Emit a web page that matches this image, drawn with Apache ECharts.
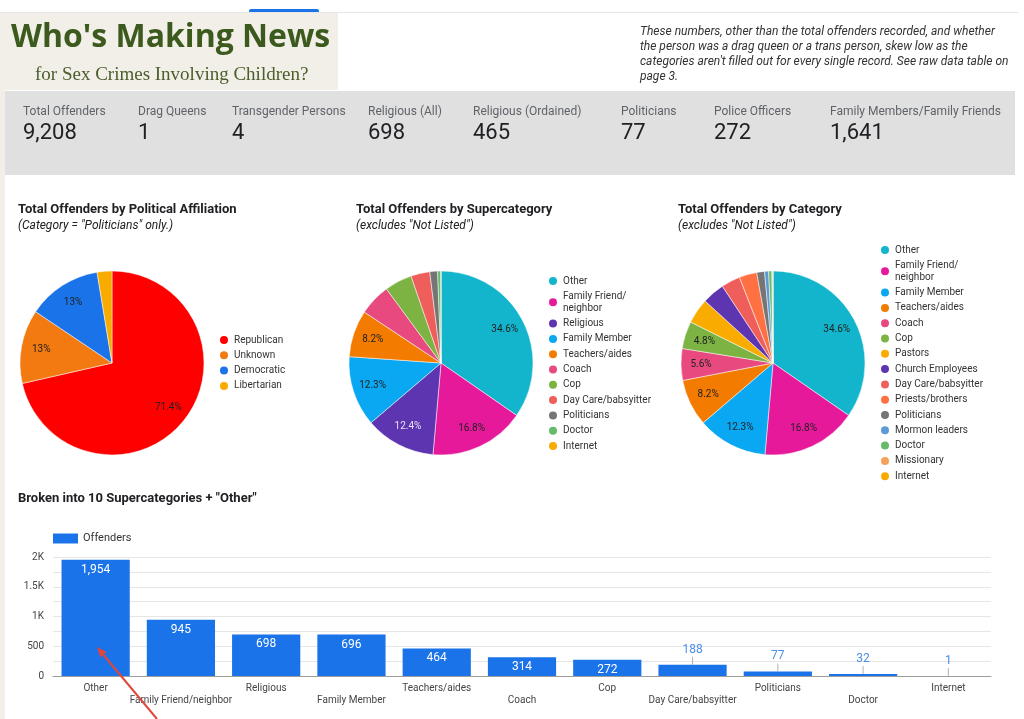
<!DOCTYPE html>
<html lang="en">
<head>
    <meta charset="UTF-8">
    <title>Who's Making News</title>
    <script src="https://cdn.jsdelivr.net/npm/echarts@6/dist/echarts.min.js"></script>
</head>
<style>
html,body{margin:0;padding:0;background-color:#fff}
#chartBox{width:1024px;height:719px}
</style>
<body>
    <div id="chartBox"></div>
</body>
<script>
// KPI strip
const kpiLabels = ['Total Offenders', 'Drag Queens', 'Transgender Persons', 'Religious (All)', 'Religious (Ordained)', 'Politicians', 'Police Officers', 'Family Members/Family Friends'];
const kpiValues = [9208, 1, 4, 698, 465, 77, 272, 1641];

// pie 1 - political affiliation
const partyNames = ['Republican', 'Unknown', 'Democratic', 'Libertarian'];
const partyValues = [55, 10, 10, 2];
const partyColors = ['#ff0000', '#f27a10', '#1a73e8', '#f9ab00'];

// pie 2 - supercategories
const superNames = ['Other', 'Family Friend/neighbor', 'Religious', 'Family Member', 'Teachers/aides', 'Coach', 'Cop', 'Day Care/babsyitter', 'Politicians', 'Doctor', 'Internet'];
const superValues = [1954, 945, 698, 696, 464, 314, 272, 188, 77, 32, 1];
const superColors = ['#12b5cb', '#e6199b', '#5e35b1', '#0aa8f2', '#f37c00', '#e84a7f', '#7cb342', '#ee5f5b', '#757575', '#66bb6a', '#f9ab00'];

// pie 3 - categories
const catNames = ['Other', 'Family Friend/neighbor', 'Family Member', 'Teachers/aides', 'Coach', 'Cop', 'Pastors', 'Church Employees', 'Day Care/babsyitter', 'Priests/brothers', 'Politicians', 'Mormon leaders', 'Doctor', 'Missionary', 'Internet'];
const catValues = [1954, 945, 696, 464, 314, 272, 250, 223, 188, 175, 77, 40, 32, 10, 1];
const catColors = ['#12b5cb', '#e6199b', '#0aa8f2', '#f37c00', '#e84a7f', '#7cb342', '#f9ab00', '#5e35b1', '#ee5f5b', '#ff7043', '#757575', '#5c9bd5', '#66bb6a', '#f6a05a', '#f9ab00'];

// bar chart
const barNames = ['Other', 'Family Friend/neighbor', 'Religious', 'Family Member', 'Teachers/aides', 'Coach', 'Cop', 'Day Care/babsyitter', 'Politicians', 'Doctor', 'Internet'];
const barValues = [1954, 945, 698, 696, 464, 314, 272, 188, 77, 32, 1];

const FONT = 'Roboto, "Noto Sans", sans-serif';
const kpiX = [23, 138, 232, 368, 473, 621, 714, 830];

function pct(p){
    let s = p.toFixed(1);
    if (s.endsWith('.0')) s = s.slice(0, -2);
    return s + '%';
}

function pieSeries(names, values, colors, cx, minPct, lightIdx){
    const data = names.map((n, i) => ({name: n, value: values[i], itemStyle: {color: colors[i]}}));
    const total = values.reduce((a, b) => a + b, 0);
    return [
        {
            type: 'pie',
            center: [cx, 363],
            radius: [0, 92],
            startAngle: 90,
            label: {show: false},
            labelLine: {show: false},
            itemStyle: {borderColor: '#fff', borderWidth: 0.5},
            emphasis: {disabled: true},
            data: data
        },
        {
            // label layer so the percent sits at 3/4 of the radius
            type: 'pie',
            center: [cx, 363],
            radius: [46, 92],
            startAngle: 90,
            silent: true,
            itemStyle: {color: 'transparent'},
            labelLine: {show: false},
            label: {
                show: true,
                position: 'inside',
                fontFamily: FONT,
                fontSize: 10,
                color: '#222',
                formatter: p => {
                    const v = p.value / total * 100;
                    return v >= minPct ? pct(v) : '';
                }
            },
            data: names.map((n, i) => ({
                name: n, value: values[i],
                label: lightIdx.includes(i) ? {color: '#e8e2f5'} : {}
            }))
        }
    ];
}

function pieLegend(names, colors, left, top){
    return {
        orient: 'vertical',
        left: left,
        top: top,
        icon: 'circle',
        itemWidth: 10,
        itemHeight: 10,
        itemGap: 3.3,
        padding: 0,
        selectedMode: false,
        textStyle: {fontFamily: FONT, fontSize: 10, color: '#333', lineHeight: 12},
        formatter: n => n.replace('Friend/neighbor', 'Friend/\nneighbor'),
        data: names.map((n, i) => ({name: n, itemStyle: {color: colors[i]}}))
    };
}

function generateChartOption(){
    const titleStyle = {fontFamily: FONT, fontSize: 13, fontWeight: 'bold', color: '#202124'};
    const subStyle = {fontFamily: FONT, fontSize: 12, fontStyle: 'italic', color: '#202124'};

    const graphic = [
        {type: 'rect', shape: {x: 0, y: 12, width: 1018, height: 1}, style: {fill: '#e6e6e6'}},
        {type: 'rect', shape: {x: 249, y: 9, width: 70, height: 3, r: [2, 2, 0, 0]}, style: {fill: '#1a73e8'}},
        {type: 'rect', shape: {x: 0, y: 13, width: 5, height: 706}, style: {fill: '#f2efe8'}},
        {type: 'rect', shape: {x: 5, y: 13, width: 333, height: 77}, style: {fill: '#f2efe8'}},
        {type: 'text', x: 11, y: 38, style: {text: "Who's Making News", font: 'bold 32px "Open Sans", sans-serif', fill: '#3d5a1e', verticalAlign: 'middle'}},
        {type: 'text', x: 35, y: 75, style: {text: 'for Sex Crimes Involving Children?', font: '19px "Liberation Serif", serif', fill: '#4b5e2c', verticalAlign: 'middle'}},
        {type: 'text', x: 640, y: 24, style: {
            text: 'These numbers, other than the total offenders recorded, and whether\nthe person was a drag queen or a trans person, skew low as the\ncategories aren\'t filled out for every single record. See raw data table on\npage 3.',
            font: 'italic 12px Roboto, sans-serif', fill: '#333', lineHeight: 15, verticalAlign: 'top'}},
        {type: 'rect', shape: {x: 5, y: 91, width: 1010, height: 84}, style: {fill: '#e0e0e0'}},
        // annotation arrow
        {type: 'polyline', z: 100, shape: {points: [[157, 719], [101, 652]]}, style: {stroke: '#e0463a', lineWidth: 2}},
        {type: 'polygon', z: 100, shape: {points: [[97, 647], [106.5, 652.1], [100.3, 657.3]]}, style: {fill: '#e0463a'}}
    ];
    kpiLabels.forEach((l, i) => {
        graphic.push({type: 'text', x: kpiX[i], y: 112, style: {text: l, font: '12px Roboto, sans-serif', fill: '#5f6368', verticalAlign: 'middle'}});
        graphic.push({type: 'text', x: kpiX[i], y: 133, style: {text: kpiValues[i].toLocaleString('en-US'), font: '22px Roboto, sans-serif', fill: '#202124', verticalAlign: 'middle'}});
    });

    const barData = barValues.map(v => {
        const small = v < 250;
        return {
            value: v,
            label: small
                ? {position: 'top', distance: 9, color: '#4a8fe7'}
                : {position: 'insideTop', distance: 4, color: '#fff'}
        };
    });

    return {
        animation: false,
        textStyle: {fontFamily: FONT},
        graphic: graphic,
        title: [
            {left: 18, top: 203, text: 'Total Offenders by Political Affiliation', subtext: '(Category = "Politicians" only.)', itemGap: 4, padding: 0, textStyle: titleStyle, subtextStyle: subStyle},
            {left: 356, top: 203, text: 'Total Offenders by Supercategory', subtext: '(excludes "Not Listed")', itemGap: 4, padding: 0, textStyle: titleStyle, subtextStyle: subStyle},
            {left: 678, top: 203, text: 'Total Offenders by Category', subtext: '(excludes "Not Listed")', itemGap: 4, padding: 0, textStyle: titleStyle, subtextStyle: subStyle},
            {left: 18, top: 492, text: 'Broken into 10 Supercategories + "Other"', padding: 0, textStyle: titleStyle}
        ],
        legend: [
            pieLegend(partyNames, partyColors, 218, 334),
            pieLegend(superNames, superColors, 547, 275),
            pieLegend(catNames, catColors, 879, 244),
            {
                left: 48, top: 528,
                icon: 'rect', itemWidth: 25, itemHeight: 10,
                selectedMode: false,
                textStyle: {fontFamily: FONT, fontSize: 11, color: '#333'},
                data: ['Offenders']
            }
        ],
        grid: {left: 53, right: 33, top: 557, bottom: 43},
        xAxis: {
            type: 'category',
            data: barNames,
            axisTick: {show: false},
            axisLine: {lineStyle: {color: '#9e9e9e'}},
            axisLabel: {
                interval: 0,
                margin: 6,
                fontSize: 10,
                lineHeight: 12,
                color: '#444',
                formatter: (v, i) => i % 2 ? '\n' + v : v
            }
        },
        yAxis: {
            type: 'value',
            min: 0, max: 2000, interval: 500,
            axisLine: {show: false},
            axisTick: {show: false},
            axisLabel: {fontSize: 10, color: '#444', margin: 9,
                formatter: v => v >= 1000 ? (v / 1000) + 'K' : String(v)},
            splitLine: {lineStyle: {color: '#e6e6e6'}},
            minorTick: {show: false, splitNumber: 2},
            minorSplitLine: {show: true, lineStyle: {color: '#e6e6e6'}}
        },
        series: [
            ...pieSeries(partyNames, partyValues, partyColors, 112, 5, []),
            ...pieSeries(superNames, superValues, superColors, 441, 6, [2]),
            ...pieSeries(catNames, catValues, catColors, 773, 4.7, [7]),
            {
                type: 'bar',
                name: 'Offenders',
                barCategoryGap: '20%',
                itemStyle: {color: '#1a73e8'},
                label: {show: true, fontSize: 12, formatter: p => p.value.toLocaleString('en-US')},
                data: barData
            },
            {
                // short leader ticks for labels sitting above small bars
                type: 'scatter',
                silent: true,
                symbol: 'rect',
                symbolSize: [1, 8],
                symbolOffset: [0, -4],
                itemStyle: {color: '#9aa0a6'},
                data: barValues.map(v => v < 250 ? v : '-')
            }
        ]
    };
}

let chartObj = echarts.init(document.getElementById('chartBox'));
chartObj.setOption(generateChartOption());
</script>
</html>
